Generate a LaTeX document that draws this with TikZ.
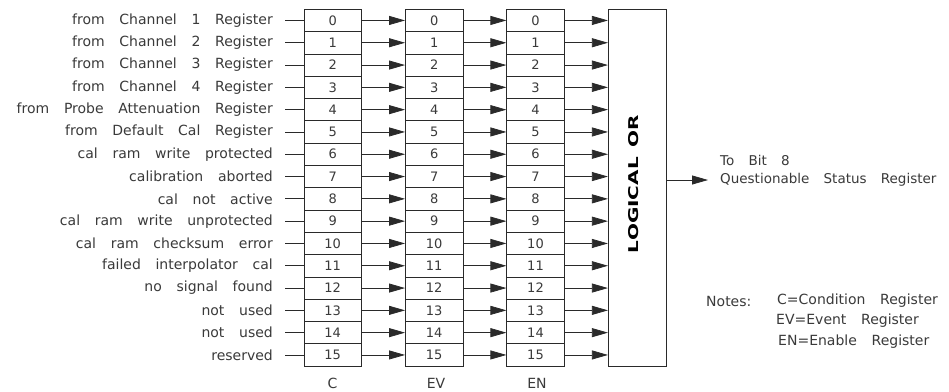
\documentclass[tikz,border=0pt]{standalone}
\usepackage{fontspec}
\usepackage{graphicx}
\setmainfont{DejaVu Sans}[WordSpace=3.3]
\newfontfamily\orfont{DejaVu Sans}[WordSpace=1.4]
\usetikzlibrary{arrows.meta}
\definecolor{txt}{HTML}{3A3A3A}
\definecolor{ln}{HTML}{2A2A2A}
\begin{document}
\begin{tikzpicture}[x=1pt,y=-1pt,
  every node/.style={text=txt},
  lbl/.style={anchor=east,inner xsep=12pt,inner ysep=0pt,font=\fontsize{14}{16}\selectfont},
  cell/.style={draw=ln,line width=0.75pt,minimum width=57.5pt,minimum height=22.3pt,inner sep=0pt,font=\fontsize{13}{15}\selectfont},
  wire/.style={draw=ln,line width=0.75pt},
  arr/.style={wire,-{Triangle[length=16pt,width=9pt]}},
  plain/.style={inner sep=0pt,font=\fontsize{14}{16}\selectfont},
  small/.style={inner sep=0pt,font=\fontsize{13.5}{15}\selectfont}]
\fill[white] (0,0) rectangle (949,391);
\useasboundingbox (0,0) rectangle (949,391);
% LOGICAL OR box
\node[draw=ln,line width=0.75pt,minimum width=58pt,minimum height=357pt,inner sep=0pt] (lor) at (637.3,187.8) {};
\node[rotate=90,inner sep=0pt,text=black] (lortxt) at (633.5,184) {\resizebox{138pt}{10pt}{\orfont\bfseries LOGICAL OR}};
\foreach \i/\t in {0/from Channel 1 Register,1/from Channel 2 Register,2/from Channel 3 Register,3/from Channel 4 Register,4/from Probe Attenuation Register,5/from Default Cal Register,6/cal ram write protected,7/calibration aborted,8/cal not active,9/cal ram write unprotected,10/cal ram checksum error,11/failed interpolator cal,12/no signal found,13/not used,14/not used,15/reserved}{
  \pgfmathsetmacro\yy{20.45+22.3*\i}
  \node[lbl] (l\i) at (285,\yy) {\t};
  \node[cell] (c\i) at (332.65,\yy) {\i};
  \node[cell] (v\i) at (434.15,\yy) {\i};
  \node[cell] (n\i) at (535.5,\yy) {\i};
  \draw[wire] (l\i.east) -- (c\i.west);
  \draw[arr] (c\i.east) -- (v\i.west);
  \draw[arr] (v\i.east) -- (n\i.west);
  \draw[arr] (n\i.east) -- (n\i -| lor.west);
}
% bottom labels
\node[plain] (cl) at (332.6,383) {C};
\node[plain] (evl) at (436,383) {EV};
\node[plain] (enl) at (537,383) {EN};
% output
\node[small,anchor=west] (tobit) at (720,160.5) {To Bit 8};
\node[small,anchor=west,inner xsep=12pt] (qsr) at (708,180) {Questionable Status Register};
\draw[arr] (qsr.west -| lor.east) -- (qsr.west);
% notes
\node[plain,anchor=west] (notes) at (706,301) {Notes:};
\node[plain,anchor=west] (n1) at (777,301) {C=Condition Register};
\node[plain,anchor=west] (n2) at (776,321) {EV=Event Register};
\node[plain,anchor=west] (n3) at (778,342) {EN=Enable Register};
\end{tikzpicture}
\end{document}
